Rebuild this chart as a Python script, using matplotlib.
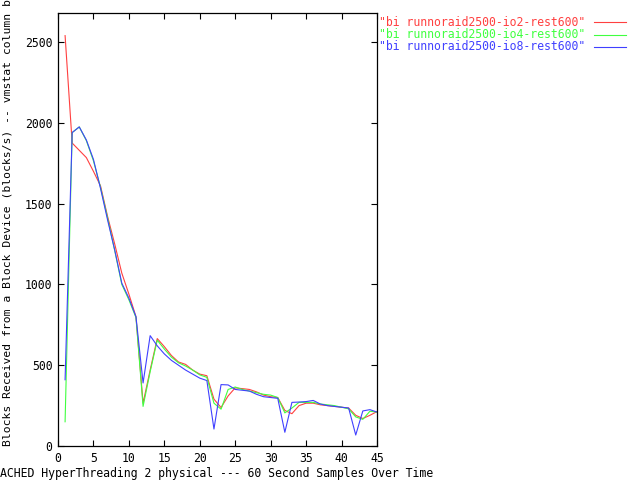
import matplotlib
matplotlib.use("Agg")
import matplotlib.pyplot as plt

# samples (minute index) and vmstat "bi" values for each run
samples = list(range(1, 46))

io2 = [2540, 1875, 1830, 1785, 1700, 1610, 1420, 1250, 1070, 940,
       800, 265, 470, 665, 615, 560, 520, 505, 470, 445,
       435, 290, 238, 310, 360, 355, 350, 335, 315, 305,
       300, 220, 200, 250, 265, 265, 255, 250, 245, 240,
       235, 190, 170, 190, 213]

io4 = [150, 1940, 1975, 1890, 1765, 1600, 1410, 1210, 1000, 905,
       795, 245, 460, 655, 600, 550, 515, 495, 470, 440,
       425, 265, 228, 350, 365, 350, 340, 330, 320, 315,
       300, 205, 235, 270, 270, 270, 260, 255, 250, 240,
       230, 180, 165, 215, 210]

io8 = [410, 1940, 1975, 1894, 1774, 1594, 1398, 1213, 1008, 915,
       800, 390, 683, 620, 570, 530, 500, 470, 445, 420,
       405, 105, 380, 378, 350, 345, 340, 320, 305, 300,
       295, 85, 270, 272, 275, 282, 260, 250, 245, 240,
       235, 68, 217, 225, 210]

series = [
    ('"bi runnoraid2500-io2-rest600"', io2, "#ff4040"),
    ('"bi runnoraid2500-io4-rest600"', io4, "#40ff40"),
    ('"bi runnoraid2500-io8-rest600"', io8, "#4040ff"),
]

font = dict(family="DejaVu Sans Mono", size=8.3)

fig = plt.figure(figsize=(6.4, 4.8), dpi=100)
ax = fig.add_axes([58 / 640, 34 / 480, 319 / 640, 433 / 480])

for label, vals, color in series:
    ax.plot(samples, vals, color=color, linewidth=0.8, label=label)

ax.set_xlim(0, 45)
ax.set_ylim(0, 2680)
ax.set_xticks(range(0, 46, 5))
ax.set_yticks(range(0, 2501, 500))
ax.tick_params(direction="in", length=4, width=0.8, top=True, right=True,
               labelsize=8.3, pad=4)
for lab in ax.get_xticklabels() + ax.get_yticklabels():
    lab.set_fontfamily("DejaVu Sans Mono")
for sp in ax.spines.values():
    sp.set_linewidth(0.9)

# legend drawn gnuplot style: right-aligned text then a line sample
for i, (label, vals, color) in enumerate(series):
    y = 1 - (22 + 12.5 * i) / 480
    fig.text(585 / 640, y, label, color=color, ha="right", va="center", **font)
    fig.lines.append(plt.Line2D([594 / 640, 626 / 640], [y, y], color=color,
                                linewidth=0.8, transform=fig.transFigure))

fig.text(0, 7 / 480,
         "ACHED HyperThreading 2 physical --- 60 Second Samples Over Time",
         ha="left", va="center", **font)
fig.text(8 / 640, 34 / 480,
         "Blocks Received from a Block Device (blocks/s) -- vmstat column bi",
         rotation=90, ha="center", va="bottom", size=8.2,
         family="DejaVu Sans Mono")

fig.savefig("out.png", dpi=100)
